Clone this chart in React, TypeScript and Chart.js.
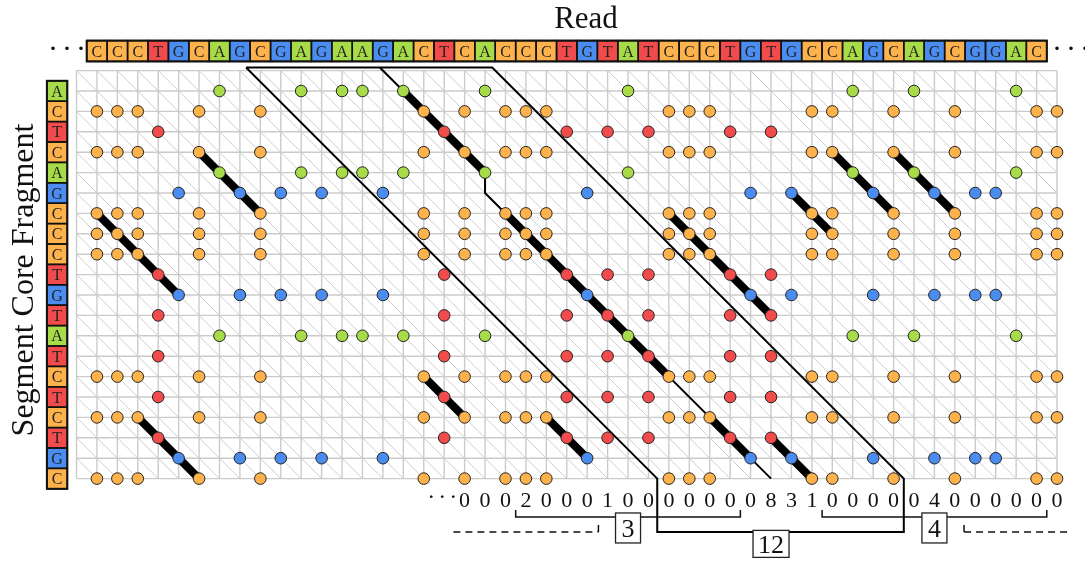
import React, { useEffect, useRef } from "react";
import { Chart, registerables } from "chart.js";

Chart.register(...registerables);

// ---------------- data ----------------
const readSeq = [
  "C","C","C","T","G","C","A","G","C","G","A","G","A","A","G","A","C","T","C","A",
  "C","C","C","T","G","T","A","T","C","C","C","T","G","T","G","C","C","A","G","C",
  "A","G","C","G","G","A","C",
];
// the read continues past the right ellipsis (column 47)
const readTail = ["C"];
const fragmentSeq = ["A","C","T","C","A","G","C","C","C","T","G","T","A","T","C","T","C","T","G","C"];
const bases = ["A", "C", "G", "T"];
const baseColors: Record<string, string> = {
  A: "#a7db47",
  C: "#fdb24c",
  G: "#4a8cf0",
  T: "#f24b4b",
};

// thick alignment runs: start column, start row, length (diagonal steps)
const runStartCols = [5, 0, 2, 15, 16, 20, 30, 22, 28, 34, 36, 39, 33];
const runStartRows = [3, 6, 16, 0, 14, 6, 16, 16, 6, 5, 3, 3, 17];
const runLengths = [3, 4, 3, 4, 2, 8, 2, 2, 5, 2, 3, 3, 2];

// band outline (column, row) and inner path
const bandOutlineCols = [7.3, 19.35, 39.5, 39.5, 27.43, 27.43, 7.3];
const bandOutlineRows = [-1.15, -1.15, 19, 21.62, 21.62, 19, -1.15];
const bandPathCols = [13.85, 19, 19, 33];
const bandPathRows = [-1.15, 4, 5, 19];

// per-column counts under the grid
const countStartCol = 18;
const counts = [0,0,0,2,0,0,0,1,0,0,0,0,0,0,0,8,3,1,0,0,0,0,0,4,0,0,0,0,0,0];

// brackets
const bracketFrom = [20.5, 35.5];
const bracketTo = [31.5, 46.5];
const bracketLabels = ["3", "4"];
const bracketLabelCols = [26, 41];
const bandLabel = "12";
const bandLabelCol = 33;
const dashedFrom = [17.45, 42.45];
const dashedTo = [24.55, 47.6];
const dashedTickAt = [24.55, 42.45];

const X_MIN = -1;
const X_MAX = 47;
const Y_MIN = -1;
const Y_MAX = 19;

const FONT = '"Liberation Serif", "DejaVu Serif", serif';

function matchPoints(base: string) {
  const cols = [...readSeq, ...readTail];
  const pts: { x: number; y: number }[] = [];
  fragmentSeq.forEach((f, r) => {
    if (f !== base) return;
    cols.forEach((c, i) => {
      if (c === base) pts.push({ x: i, y: r });
    });
  });
  return pts;
}

const decorPlugin = {
  id: "decor",
  beforeDatasetsDraw(chart: any) {
    const { ctx, chartArea: a, scales } = chart;
    const x = scales.x;
    const y = scales.y;
    const px = (v: number) => x.getPixelForValue(v);
    const py = (v: number) => y.getPixelForValue(v);
    ctx.save();
    ctx.beginPath();
    ctx.rect(a.left, a.top, a.right - a.left, a.bottom - a.top);
    ctx.clip();
    ctx.strokeStyle = "#cdcdcd";
    ctx.lineWidth = 1;
    for (let k = X_MIN - Y_MAX; k <= X_MAX - Y_MIN; k++) {
      ctx.beginPath();
      ctx.moveTo(px(k + Y_MIN), py(Y_MIN));
      ctx.lineTo(px(k + Y_MAX), py(Y_MAX));
      ctx.stroke();
    }
    ctx.restore();

    ctx.save();
    ctx.strokeStyle = "#cbcbcb";
    ctx.lineWidth = 1.4;
    for (let c = X_MIN; c <= X_MAX; c++) {
      ctx.beginPath();
      ctx.moveTo(px(c), py(Y_MIN));
      ctx.lineTo(px(c), py(Y_MAX));
      ctx.stroke();
    }
    for (let r = Y_MIN; r <= Y_MAX; r++) {
      ctx.beginPath();
      ctx.moveTo(px(X_MIN), py(r));
      ctx.lineTo(px(X_MAX), py(r));
      ctx.stroke();
    }
    ctx.restore();
  },
  afterDatasetsDraw(chart: any) {
    const { ctx, scales } = chart;
    const x = scales.x;
    const y = scales.y;
    const px = (v: number) => x.getPixelForValue(v);
    const py = (v: number) => y.getPixelForValue(v);
    ctx.save();

    // read boxes
    const rTop = py(-2.47);
    const rBot = py(-1.45);
    readSeq.forEach((b, i) => {
      const l = px(i - 0.5);
      const rr = px(i + 0.5);
      ctx.fillStyle = baseColors[b];
      ctx.fillRect(l, rTop, rr - l, rBot - rTop);
    });
    ctx.strokeStyle = "#111";
    ctx.lineWidth = 1.5;
    readSeq.forEach((b, i) => {
      const l = px(i - 0.5);
      const rr = px(i + 0.5);
      ctx.strokeRect(l, rTop, rr - l, rBot - rTop);
    });
    ctx.lineWidth = 2;
    ctx.strokeRect(px(-0.5), rTop, px(readSeq.length - 0.5) - px(-0.5), rBot - rTop);
    ctx.fillStyle = "#222";
    ctx.font = `16px ${FONT}`;
    ctx.textAlign = "center";
    ctx.textBaseline = "alphabetic";
    readSeq.forEach((b, i) => {
      ctx.fillText(b, px(i), (rTop + rBot) / 2 + 5.5);
    });

    // fragment boxes
    const fL = px(-2.45);
    const fR = px(-1.45);
    fragmentSeq.forEach((b, r) => {
      const t = py(r - 0.5);
      const bt = py(r + 0.5);
      ctx.fillStyle = baseColors[b];
      ctx.fillRect(fL, t, fR - fL, bt - t);
    });
    ctx.lineWidth = 1.5;
    fragmentSeq.forEach((b, r) => {
      const t = py(r - 0.5);
      const bt = py(r + 0.5);
      ctx.strokeRect(fL, t, fR - fL, bt - t);
    });
    ctx.lineWidth = 2;
    ctx.strokeRect(fL, py(-0.5), fR - fL, py(fragmentSeq.length - 0.5) - py(-0.5));
    ctx.fillStyle = "#222";
    fragmentSeq.forEach((b, r) => {
      ctx.fillText(b, (fL + fR) / 2, py(r) + 5.5);
    });

    // titles
    ctx.fillStyle = "#111";
    ctx.font = `31px ${FONT}`;
    ctx.textAlign = "center";
    ctx.fillText("Read", 586, 28);
    ctx.save();
    ctx.translate(33, 280);
    ctx.rotate(-Math.PI / 2);
    ctx.font = `32px ${FONT}`;
    ctx.fillText("Segment Core Fragment", 0, 0);
    ctx.restore();

    // ellipses
    ctx.textBaseline = "middle";
    ctx.font = `30px ${FONT}`;
    (ctx as any).letterSpacing = "4px";
    ctx.fillText("···", px(-1.46) + 2, (rTop + rBot) / 2 - 1);
    ctx.fillText("···", px(47.68) + 2, (rTop + rBot) / 2 - 1);
    ctx.font = `24px ${FONT}`;
    (ctx as any).letterSpacing = "3px";
    ctx.fillText("···", px(16.9) + 1.5, py(20) - 1);
    (ctx as any).letterSpacing = "0px";

    // counts
    ctx.textBaseline = "alphabetic";
    ctx.font = `22px ${FONT}`;
    counts.forEach((v, i) => {
      ctx.fillText(String(v), px(countStartCol + i), py(20.4));
    });

    // brackets
    ctx.strokeStyle = "#111";
    ctx.lineWidth = 1.5;
    bracketFrom.forEach((f, i) => {
      ctx.beginPath();
      ctx.moveTo(px(f), py(20.54));
      ctx.lineTo(px(f), py(20.88));
      ctx.lineTo(px(bracketTo[i]), py(20.88));
      ctx.lineTo(px(bracketTo[i]), py(20.54));
      ctx.stroke();
    });
    dashedFrom.forEach((f, i) => {
      ctx.setLineDash([7, 5]);
      ctx.beginPath();
      ctx.moveTo(px(f), py(21.62));
      ctx.lineTo(px(dashedTo[i]), py(21.62));
      ctx.stroke();
      ctx.setLineDash([]);
      ctx.beginPath();
      ctx.moveTo(px(dashedTickAt[i]), py(21.27));
      ctx.lineTo(px(dashedTickAt[i]), py(21.62));
      ctx.stroke();
    });

    // label boxes
    const labelBox = (text: string, cx: number, cy: number, w: number, h: number) => {
      ctx.fillStyle = "#fff";
      ctx.fillRect(cx - w / 2, cy - h / 2, w, h);
      ctx.strokeStyle = "#222";
      ctx.lineWidth = 1.3;
      ctx.strokeRect(cx - w / 2, cy - h / 2, w, h);
      ctx.fillStyle = "#111";
      ctx.font = `26px ${FONT}`;
      ctx.textAlign = "center";
      ctx.textBaseline = "alphabetic";
      ctx.fillText(text, cx, cy + 9);
    };
    bracketLabels.forEach((t, i) => {
      labelBox(t, px(bracketLabelCols[i]), py(21.42), 25, 30);
    });
    labelBox(bandLabel, px(bandLabelCol), py(22.2), 36, 27);

    ctx.restore();
  },
};

export default function App() {
  const ref = useRef<HTMLCanvasElement | null>(null);
  useEffect(() => {
    if (!ref.current) return;
    const datasets: any[] = [];
    bases.forEach((b) => {
      datasets.push({
        label: b,
        data: matchPoints(b),
        showLine: false,
        pointRadius: 5.8,
        pointBackgroundColor: baseColors[b],
        pointBorderColor: "#222",
        pointBorderWidth: 1,
        order: 0,
        clip: false,
      });
    });
    runStartCols.forEach((c, i) => {
      const r = runStartRows[i];
      const n = runLengths[i];
      datasets.push({
        label: "run" + i,
        data: [
          { x: c, y: r },
          { x: c + n, y: r + n },
        ],
        showLine: true,
        borderColor: "#000",
        borderWidth: 8,
        pointRadius: 0,
        order: 1,
        clip: false,
      });
    });
    datasets.push({
      label: "band",
      data: bandOutlineCols.map((c, i) => ({ x: c, y: bandOutlineRows[i] })),
      showLine: true,
      borderColor: "#000",
      borderWidth: 2,
      borderJoinStyle: "miter",
      pointRadius: 0,
      order: 2,
      clip: false,
    });
    datasets.push({
      label: "path",
      data: bandPathCols.map((c, i) => ({ x: c, y: bandPathRows[i] })),
      showLine: true,
      borderColor: "#000",
      borderWidth: 2,
      borderJoinStyle: "miter",
      pointRadius: 0,
      order: 2,
      clip: false,
    });

    const chart = new Chart(ref.current, {
      type: "scatter",
      data: { datasets },
      options: {
        responsive: false,
        animation: false,
        devicePixelRatio: 1,
        events: [],
        layout: { padding: { left: 76.5, right: 28, top: 70.6, bottom: 82.4 } },
        scales: {
          x: { type: "linear", min: X_MIN, max: X_MAX, display: false },
          y: { type: "linear", min: Y_MIN, max: Y_MAX, reverse: true, display: false },
        },
        plugins: { legend: { display: false }, tooltip: { enabled: false } },
      },
      plugins: [decorPlugin],
    } as any);
    return () => chart.destroy();
  }, []);
  return (
    <div style={{ position: "absolute", left: 0, top: 0, width: 1085, height: 561, background: "#fff" }}>
      <canvas ref={ref} width={1085} height={561} style={{ width: 1085, height: 561, display: "block" }} />
    </div>
  );
}
